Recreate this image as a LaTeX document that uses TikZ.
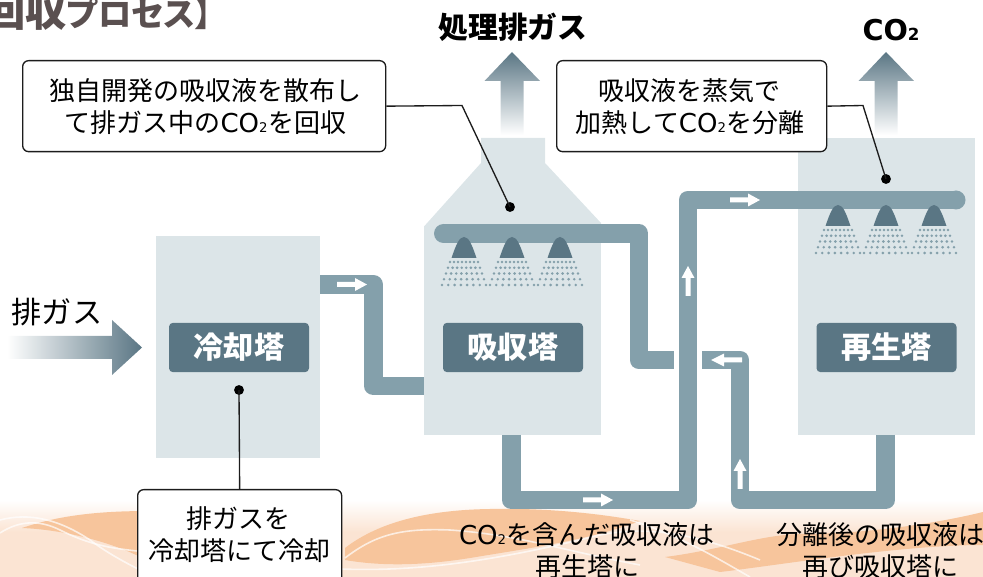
\documentclass[tikz,border=0pt]{standalone}
\usepackage{fontspec}
\setmainfont{Noto Sans CJK JP}
\newfontfamily\titlefont[RawFeature=+palt]{Noto Sans CJK JP}
\newfontfamily\latinfont{DejaVu Sans}
\definecolor{towercol}{HTML}{DCE5E8}
\definecolor{pipecol}{HTML}{84A0AB}
\definecolor{tagcol}{HTML}{5A7684}
\definecolor{peach}{HTML}{FBE4D3}
\definecolor{orangeband}{HTML}{F7C59C}
\definecolor{inkcol}{HTML}{1C1C1C}
\definecolor{titlecol}{HTML}{5A5050}
\newcommand{\coTwo}{{\latinfont CO\fontsize{10}{10}\selectfont 2\kern.6pt}}
\newcommand{\coTwoB}{{\latinfont\bfseries CO\fontsize{12.5}{12.5}\selectfont 2}}
\tikzset{
  towerbox/.style={fill=towercol,draw=none,inner sep=0pt,outer sep=0pt},
  pipe/.style={draw=pipecol,line width=14.2pt,line join=round},
  tagbox/.style={fill=tagcol,rounded corners=3pt,inner sep=0pt,text=white,
    minimum width=105pt,minimum height=37pt,font=\fontsize{22.6}{26}\selectfont\bfseries},
  callout/.style={draw=inkcol,line width=1pt,fill=white,rounded corners=4.5pt,inner sep=0pt,
    align=center,font=\fontsize{19.5}{24}\selectfont},
  leader/.style={draw=inkcol,line width=1pt},
  blackdot/.style={circle,fill=black,minimum size=7.4pt,inner sep=0pt},
  flowtip/.style={fill=white,draw=none},
  plain/.style={align=center,inner sep=0pt,font=\fontsize{19.5}{24}\selectfont},
  headline/.style={inner sep=0pt,font=\fontsize{22.3}{26}\selectfont\bfseries},
  bigup/.style={top color=tagcol,middle color=pipecol!85,bottom color=white,draw=none},
  whitecurve/.style={draw=white,line width=1.2pt,opacity=.7},
}
\begin{document}
\begin{tikzpicture}[x=.75pt,y=-.75pt]
\useasboundingbox (0,0) rectangle (983,577);
\begin{scope}
\clip (0,0) rectangle (983,577);
% background waves
\fill[top color=white,bottom color=peach] (0,500) rectangle (983,532);
\fill[peach] (0,532) rectangle (983,577);
\fill[orangeband] (22,528) .. controls (60,515) and (100,511) .. (150,511) -- (150,562) .. controls (120,545) and (70,530) .. (22,528) -- cycle;
\fill[orangeband] (345,548) .. controls (375,525) and (420,510) .. (490,509) .. controls (540,508) and (590,512) .. (640,521) .. controls (590,540) and (530,548) .. (470,558) .. controls (420,566) and (380,566) .. (345,560) -- cycle;
\fill[orangeband] (665,557) .. controls (720,550) and (760,535) .. (800,534) .. controls (860,534) and (930,525) .. (983,512) -- (983,545) .. controls (900,545) and (780,565) .. (720,572) -- cycle;
\draw[whitecurve] (0,533) .. controls (20,520) and (40,520) .. (60,530) .. controls (90,545) and (110,548) .. (137,551);
\draw[whitecurve] (0,520) .. controls (30,512) and (60,520) .. (90,540) .. controls (110,555) and (130,565) .. (150,575);
\draw[whitecurve] (345,558) .. controls (375,535) and (400,528) .. (450,530) .. controls (520,535) and (560,550) .. (640,565);
\draw[whitecurve] (341,569) .. controls (420,572) and (500,560) .. (600,535) .. controls (650,525) and (700,535) .. (760,560);
\draw[whitecurve] (630,520) .. controls (680,535) and (720,560) .. (750,577);
% title and headlines
\node[anchor=base east,inner sep=0pt,text=titlecol] (title) at (212,27)
  {\titlefont\bfseries\fontsize{31}{31}\selectfont 回収\fontsize{25}{25}\selectfont プロセス】};
\node[headline] (hGas) at (513,27) {処理排ガス};
\node[headline] (hCO) at (891,30) {\fontsize{21.5}{24}\selectfont\coTwoB};
\node[inner sep=0pt,font=\fontsize{22.6}{26}\selectfont] (exh) at (57,312) {排ガス};
% big arrows
\path[bigup] (512,52) -- (540,81) -- (523.5,81) -- (523.5,135) -- (500.5,135) -- (500.5,81) -- (484.5,81) -- cycle;
\path[bigup] (886,52) -- (914,81) -- (897.5,81) -- (897.5,135) -- (874.5,135) -- (874.5,81) -- (858.5,81) -- cycle;
\path[left color=white,right color=tagcol,draw=none] (7,336) -- (112,336) -- (112,320) -- (142,347.5) -- (112,375) -- (112,359) -- (7,359) -- cycle;
% towers
\node[towerbox,anchor=north west,minimum width=123pt,minimum height=166.5pt] (cooler) at (156,236) {};
\node[towerbox,anchor=north west,minimum width=132.75pt,minimum height=156.75pt] (absorber) at (424,226) {};
\fill[towercol] (424,226.5) -- (481,163) -- (481,138) -- (545,138) -- (545,163) -- (601,223) -- (601,226.5) -- cycle;
\node[towerbox,anchor=north west,minimum width=132.75pt,minimum height=222.75pt] (regen) at (798,138) {};
% pipes
\coordinate (p1a) at (320,284.5);
\coordinate (p1b) at (424,386);
\draw[pipe] (p1a) -- (373.5,284.5) -- (373.5,386) -- (p1b);
\coordinate (p2a) at (443.5,233.5);
\coordinate (p2b) at (674,360);
\fill[pipecol] (p2a) circle[radius=9.5];
\draw[pipe] (p2a) -- (639,233.5) -- (639,360) -- (p2b);
\coordinate (p3a) at (511.5,435);
\coordinate (p3b) at (956,200);
\fill[pipecol] (p3b) circle[radius=9.5];
\draw[pipe] (p3a) -- (511.5,500) -- (688,500) -- (688,200) -- (p3b);
\coordinate (p4a) at (885.5,435);
\coordinate (p4b) at (702,360);
\draw[pipe] (p4a) -- (885.5,500) -- (740,500) -- (740,360) -- (p4b);
% flow arrows
\foreach \ax/\ay in {337/284.5,730/200,583/500}{
  \fill[flowtip] (\ax,\ay-2.5) -- (\ax+18,\ay-2.5) -- (\ax+18,\ay-6.5) -- (\ax+30,\ay) -- (\ax+18,\ay+6.5) -- (\ax+18,\ay+2.5) -- (\ax,\ay+2.5) -- cycle;
}
\fill[flowtip] (742,357.5) -- (724,357.5) -- (724,353.5) -- (711,360) -- (724,366.5) -- (724,362.5) -- (742,362.5) -- cycle;
\foreach \ax/\ay in {688/296,740/489}{
  \fill[flowtip] (\ax-2.5,\ay) -- (\ax-2.5,\ay-18) -- (\ax-6.5,\ay-18) -- (\ax,\ay-30) -- (\ax+6.5,\ay-18) -- (\ax+2.5,\ay-18) -- (\ax+2.5,\ay) -- cycle;
}
% spray nozzles
\foreach \cx/\ty in {464/237,512/237,560/237,838/205,886/205,934/205}{
  \fill[tagcol] (\cx-12.5,\ty+21) .. controls (\cx-8,\ty+8) and (\cx-5,\ty) .. (\cx,\ty) .. controls (\cx+5,\ty) and (\cx+8,\ty+8) .. (\cx+12.5,\ty+21) -- cycle;
  \foreach \r in {0,...,4}{
    \foreach \i in {0,...,7}{
      \fill[pipecol] ({\cx+(14+2*\r)*(\i/3.5-1)},{\ty+25+5.75*\r}) circle[radius=1.45];
    }
  }
}
% tower tags
\node[tagbox] (tagC) at (239,347.5) {冷却塔};
\node[tagbox] (tagA) at (513,347.5) {吸収塔};
\node[tagbox] (tagR) at (886.5,347.5) {再生塔};
% callouts
\node[blackdot] (dotA) at (510,207) {};
\node[blackdot] (dotB) at (886,179) {};
\node[blackdot] (dotC) at (239,390) {};
\node[callout,anchor=north west,minimum width=272.25pt,minimum height=68.25pt] (callA) at (22,60) {\hspace*{2pt}独自開発の吸収液を散布し\\\hspace*{2pt}て排ガス中の\coTwo を回収};
\node[callout,anchor=north west,minimum width=202.5pt,minimum height=68.25pt] (callB) at (556,60) {吸収液を蒸気で\hspace*{3pt}\\加熱して\coTwo を分離\hspace*{2pt}};
\node[callout,anchor=north west,minimum width=153pt,inner ysep=12.5pt] (callC) at (137,489) {排ガスを\hspace*{2pt}\\冷却塔にて冷却\hspace*{2pt}\\\mbox{}};
\draw[leader] (callA.east) -- (462,105.5) -- (dotA.center);
\draw[leader] (callB.east) -- (863,105.5) -- (dotB.center);
\draw[leader] (callC.north) -- (dotC.center);
% lower captions
\node[plain] (capL) at (587,551) {\coTwo を含んだ吸収液は\\再生塔に};
\node[plain] (capR) at (880,551) {分離後の吸収液は\\再び吸収塔に};
\end{scope}
\end{tikzpicture}
\end{document}
